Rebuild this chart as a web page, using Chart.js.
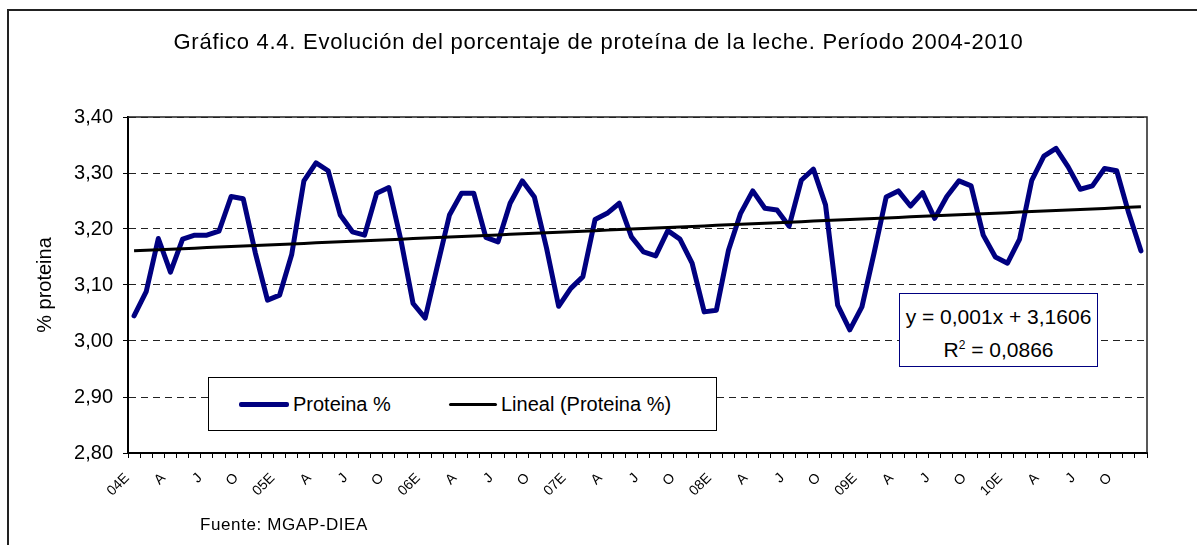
<!DOCTYPE html>
<html>
<head>
<meta charset="utf-8">
<script src="https://cdn.jsdelivr.net/npm/chart.js@4.4.0/dist/chart.umd.min.js"></script>
<style>
  body { margin: 0; overflow: hidden; background: #fff; font-family: Arial, 'Liberation Sans', sans-serif; color: #000; }
  #wrap { position: relative; width: 1197px; height: 545px; overflow: hidden; }
  #frame { position: absolute; left: 7px; top: 9px; width: 1300px; height: 700px; border: 2px solid #222; }
  canvas { position: absolute; left: 0; top: 0; }
  .title { position: absolute; left: 0; width: 1197px; top: 29px; text-align: center; font-size: 22px; letter-spacing: 0.75px; }
  .legend { position: absolute; left: 208px; top: 377px; width: 507px; height: 52px; border: 1px solid #000; background: #fff; }
  .legend .sw { position: absolute; top: 24px; height: 5px; border-radius: 2px; }
  .legend .lb { position: absolute; top: 14px; font-size: 20px; line-height: 24px; }
  .eq { position: absolute; left: 899px; top: 293px; width: 199px; height: 74px; border: 1px solid #000080; background: #fff; text-align: center; font-size: 21px; line-height: 29px; padding-top: 8px; box-sizing: border-box; }
  .src { position: absolute; left: 200px; top: 515px; font-size: 17px; letter-spacing: 0.6px; }
</style>
</head>
<body>
<div id="wrap">
  <div id="frame"></div>
  <canvas id="chart" width="1197" height="545"></canvas>
  <div class="title">Gráfico 4.4. Evolución del porcentaje de proteína de la leche. Período 2004-2010</div>
  <div class="legend">
    <span class="sw" style="left:30px;width:50px;background:#000080"></span>
    <span class="lb" style="left:84px">Proteina %</span>
    <span class="sw" style="left:240px;width:48px;height:3px;top:25px;background:#000"></span>
    <span class="lb" style="left:292px">Lineal (Proteina %)</span>
  </div>
  <div class="eq">y = 0,001x + 3,1606<br>R<sup style="font-size:12px">2</sup> = 0,0866</div>
  <div class="src">Fuente: MGAP-DIEA</div>
</div>
<script>
// porcentaje de proteína mensual, por año (enero a diciembre)
const p2004 = [3.045, 3.088, 3.183, 3.123, 3.182, 3.189, 3.189, 3.196, 3.258, 3.254, 3.157, 3.073];
const p2005 = [3.082, 3.155, 3.286, 3.318, 3.304, 3.225, 3.195, 3.189, 3.264, 3.274, 3.180, 3.067];
const p2006 = [3.041, 3.134, 3.225, 3.264, 3.264, 3.185, 3.177, 3.246, 3.286, 3.257, 3.166, 3.062];
const p2007 = [3.094, 3.115, 3.217, 3.228, 3.246, 3.186, 3.159, 3.152, 3.197, 3.182, 3.139, 3.052];
const p2008 = [3.055, 3.162, 3.228, 3.268, 3.237, 3.234, 3.205, 3.287, 3.307, 3.243, 3.064, 3.020];
const p2009 = [3.061, 3.157, 3.257, 3.268, 3.241, 3.265, 3.219, 3.258, 3.286, 3.277, 3.189, 3.150];
const p2010 = [3.139, 3.182, 3.287, 3.330, 3.344, 3.311, 3.271, 3.277, 3.308, 3.304, 3.228, 3.161];

const years = ['04', '05', '06', '07', '08', '09', '10'];
const monthMarks = ['E', '', '', 'A', '', '', 'J', '', '', 'O', '', ''];
const yTicks = [2.8, 2.9, 3.0, 3.1, 3.2, 3.3, 3.4];

const proteina = [].concat(p2004, p2005, p2006, p2007, p2008, p2009, p2010);
const categories = [];
const tickLabels = [];
years.forEach(y => monthMarks.forEach((m, i) => {
  categories.push(y + '-' + (i + 1));
  tickLabels.push(m === 'E' ? y + 'E' : m);
}));

// tendencia lineal (mínimos cuadrados, x = 1..n)
const n = proteina.length;
let sx = 0, sy = 0, sxy = 0, sxx = 0;
proteina.forEach((v, i) => { const x = i + 1; sx += x; sy += v; sxy += x * v; sxx += x * x; });
const slope = (n * sxy - sx * sy) / (n * sxx - sx * sx);
const intercept = (sy - slope * sx) / n;
const trend = proteina.map((v, i) => intercept + slope * (i + 1));

const font = "Arial, 'Liberation Sans', sans-serif";

const plotFrame = {
  id: 'plotFrame',
  beforeDatasetsDraw(chart) {
    const a = chart.chartArea, c = chart.ctx;
    c.save();
    c.strokeStyle = '#222';
    c.lineWidth = 1.5;
    c.beginPath();
    c.moveTo(a.left, a.top);
    c.lineTo(a.right, a.top);
    c.lineTo(a.right, a.bottom);
    c.stroke();
    c.restore();
  }
};

new Chart(document.getElementById('chart'), {
  type: 'line',
  data: {
    labels: categories,
    datasets: [{
      label: 'Lineal (Proteina %)',
      data: trend,
      borderColor: '#000',
      borderWidth: 3,
      pointRadius: 0,
      tension: 0,
      order: 0
    }, {
      label: 'Proteina %',
      data: proteina,
      borderColor: '#000080',
      borderWidth: 5,
      pointRadius: 0,
      tension: 0,
      borderJoinStyle: 'round',
      borderCapStyle: 'round',
      order: 1
    }]
  },
  options: {
    responsive: false,
    animation: false,
    layout: { padding: { left: 0, top: 117, right: 50, bottom: 0 } },
    plugins: { legend: { display: false }, tooltip: { enabled: false } },
    scales: {
      x: {
        offset: true,
        afterFit: s => { s.height = 92; },
        grid: { drawOnChartArea: false, drawTicks: true, tickLength: 5, offset: true, color: '#000', tickColor: '#000' },
        border: { display: true, color: '#000', width: 2 },
        ticks: {
          autoSkip: false, minRotation: 45, maxRotation: 45, padding: 12, labelOffset: -7,
          color: '#000', font: { family: font, size: 14 },
          callback: (v, i) => tickLabels[i]
        }
      },
      y: {
        min: 2.8, max: 3.4,
        afterFit: s => { s.width = 128; },
        afterBuildTicks: s => { s.ticks = yTicks.map(v => ({ value: v })); },
        grid: { color: '#222', lineWidth: 1, tickLength: 5, tickColor: '#000', tickBorderDash: [] },
        border: { display: true, color: '#000', width: 2, dash: [7, 5] },
        ticks: {
          padding: 10, color: '#000', font: { family: font, size: 20 },
          callback: v => v.toFixed(2).replace('.', ',')
        },
        title: { display: true, text: '% proteina', color: '#000', font: { family: font, size: 20 }, padding: { top: 33 } }
      }
    }
  },
  plugins: [plotFrame]
});
</script>
</body>
</html>
